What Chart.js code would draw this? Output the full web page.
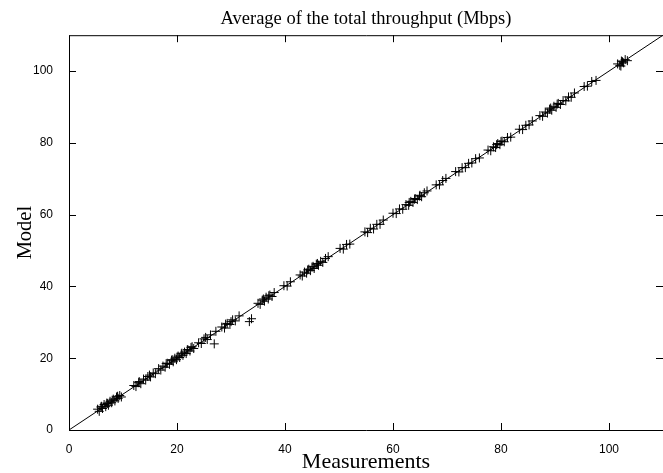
<!DOCTYPE html>
<html>
<head>
<meta charset="utf-8">
<script src="https://cdn.jsdelivr.net/npm/chart.js@4/dist/chart.umd.min.js"></script>
<style>
  html, body { margin: 0; padding: 0; background: #fff; }
  #wrap { width: 663px; height: 473px; }
</style>
</head>
<body>
<div id="wrap"><canvas id="chart"></canvas></div>
<script>
const measurements = [
  5.3, 5.6, 5.9, 6.2, 6.5, 6.8, 7.1, 7.3, 7.6, 7.9, 8.2, 8.5, 8.8, 9.1, 9.4, 9.7, 6.0, 7.0, 8.0, 9.0,
  12.0, 12.4, 12.9, 13.3, 13.8, 14.2, 14.6, 15.1, 15.6, 16.0, 13.0, 14.9,
  16.6, 17.0, 17.4, 17.8, 18.2, 18.6, 19.0, 19.3, 19.6, 19.9, 20.2, 20.5, 20.8, 21.1, 21.4, 21.7, 22.0, 22.4, 22.8, 23.1,
  18.0, 19.1, 20.0, 20.9, 21.9, 22.6,
  24.0, 24.5, 25.0, 25.6, 26.2, 26.9, 27.2, 25.3,
  28.3, 28.8, 29.3, 29.8, 30.3, 30.8, 31.5, 33.4, 33.8, 29.0, 30.0,
  35.0, 35.4, 35.8, 36.2, 36.5, 36.9, 37.2, 37.6, 38.0, 36.0, 37.0,
  39.8, 40.4, 41.0,
  42.8, 43.2, 43.6, 44.0, 44.4, 44.7, 45.0, 45.4, 45.8, 46.2, 46.6, 47.0, 47.5, 48.0, 44.2, 45.2, 46.0,
  50.2, 50.8, 51.4, 52.0,
  54.8, 55.3, 55.8, 56.4, 57.0, 57.6, 58.2,
  60.0, 60.6, 61.2, 61.8, 62.4, 62.9, 63.3, 63.7, 64.1, 64.5, 64.9, 65.3, 65.8, 66.3, 63.0, 64.0, 65.0,
  68.0, 68.6, 69.2, 69.8,
  71.6, 72.2, 72.8, 73.4, 74.0, 74.6, 75.3, 76.0,
  77.6, 78.1, 78.6, 79.0, 79.4, 79.8, 80.2, 80.6, 81.2, 81.8, 79.2, 80.0,
  83.4, 84.0, 84.6, 85.2, 85.8,
  87.2, 87.7, 88.2, 88.6, 89.0, 89.4, 89.8, 90.2, 90.6, 91.0, 91.5, 92.0, 92.5, 93.0, 93.6, 89.2, 90.4,
  95.4, 96.0, 96.8, 97.6,
  101.6, 102.0, 102.3, 102.7, 103.0, 103.4, 102.2, 102.5
];
const model = [
  5.8, 5.2, 6.4, 6.0, 7.1, 6.5, 7.4, 6.9, 8.0, 7.6, 8.6, 8.1, 9.2, 8.8, 9.6, 9.2, 6.6, 7.5, 8.3, 9.4,
  12.4, 12.1, 13.2, 12.9, 14.2, 13.9, 14.9, 14.8, 15.9, 15.7, 13.5, 15.3,
  17.1, 16.7, 17.8, 17.5, 18.6, 18.3, 19.4, 19.0, 20.0, 19.6, 20.6, 20.2, 21.2, 20.8, 21.7, 21.3, 22.4, 22.0, 23.2, 22.7,
  18.5, 19.6, 20.3, 21.4, 22.3, 23.0,
  24.3, 24.1, 25.4, 25.2, 26.5, 24.0, 27.5, 25.8,
  28.7, 28.4, 29.7, 29.4, 30.7, 30.4, 31.8, 30.2, 31.0, 29.5, 30.2,
  35.3, 35.0, 36.2, 35.9, 37.0, 36.5, 37.6, 37.2, 38.3, 36.5, 37.4,
  40.2, 40.1, 41.3,
  43.2, 42.9, 44.0, 43.7, 44.8, 44.4, 45.4, 45.0, 46.2, 45.9, 47.0, 46.7, 47.8, 48.3, 44.6, 45.6, 46.4,
  50.6, 50.4, 51.7, 51.8,
  55.2, 55.0, 56.2, 56.0, 57.3, 57.3, 58.5,
  60.4, 60.3, 61.6, 61.5, 62.8, 62.6, 63.7, 63.4, 64.5, 64.2, 65.2, 65.0, 66.1, 66.6, 63.4, 64.3, 65.4,
  68.3, 68.3, 69.5, 70.1,
  72.0, 71.9, 73.1, 73.1, 74.3, 74.4, 75.6, 75.8,
  78.0, 77.8, 78.9, 78.7, 79.8, 79.5, 80.5, 80.3, 81.5, 81.6, 79.5, 80.4,
  83.8, 83.7, 84.9, 85.0, 86.1,
  87.6, 87.4, 88.6, 88.3, 89.4, 89.1, 90.2, 89.9, 91.0, 90.7, 91.8, 91.7, 92.8, 92.7, 93.9, 89.7, 90.8,
  95.7, 95.8, 97.1, 97.4,
  102.0, 101.6, 102.8, 102.3, 103.2, 102.9, 101.4, 102.6
];
const axisMin = 0;
const axisMax = 110;
const tickStep = 20;
const identityLine = [0, 110];

const points = measurements.map((m, i) => ({ x: m, y: model[i] }));

// gnuplot-style border and inward ticks on all four sides
const frame = {
  id: 'frame',
  afterDraw(chart) {
    const { ctx, chartArea: a, scales } = chart;
    ctx.save();
    ctx.strokeStyle = '#000';
    ctx.lineWidth = 1;
    ctx.beginPath();
    ctx.moveTo(a.right, a.top + 0.5);
    ctx.lineTo(a.left + 0.5, a.top + 0.5);
    ctx.lineTo(a.left + 0.5, a.bottom + 0.5);
    ctx.lineTo(a.right, a.bottom + 0.5);
    const len = 7;
    scales.x.ticks.forEach(t => {
      const px = Math.round(scales.x.getPixelForValue(t.value)) + 0.5;
      ctx.moveTo(px, a.bottom); ctx.lineTo(px, a.bottom - len);
      ctx.moveTo(px, a.top); ctx.lineTo(px, a.top + len);
    });
    scales.y.ticks.forEach(t => {
      const py = Math.round(scales.y.getPixelForValue(t.value)) + 0.5;
      ctx.moveTo(a.left, py); ctx.lineTo(a.left + len, py);
      ctx.moveTo(a.right, py); ctx.lineTo(a.right - len, py);
    });
    ctx.stroke();
    ctx.restore();
  }
};

const sans = { family: '"Liberation Sans", Arial, sans-serif', size: 12 };
const serifFamily = '"Liberation Serif", "Times New Roman", serif';

new Chart(document.getElementById('chart'), {
  data: {
    datasets: [
      {
        type: 'scatter',
        data: points,
        pointStyle: 'cross',
        pointRadius: 4.5,
        borderColor: '#000',
        backgroundColor: '#000',
        borderWidth: 1
      },
      {
        type: 'line',
        data: identityLine.map(v => ({ x: v, y: v })),
        borderColor: '#000',
        borderWidth: 1,
        pointRadius: 0,
        fill: false
      }
    ]
  },
  options: {
    responsive: true,
    maintainAspectRatio: false,
    animation: false,
    layout: { padding: 0, autoPadding: false },
    plugins: {
      legend: { display: false },
      tooltip: { enabled: false },
      title: {
        display: true,
        text: 'Average of the total throughput (Mbps)',
        fullSize: false,
        color: '#000',
        font: { family: serifFamily, size: 18.5, weight: 'normal' },
        padding: { top: 8, bottom: 5 }
      }
    },
    scales: {
      x: {
        type: 'linear',
        min: axisMin,
        max: axisMax,
        grid: { display: false },
        border: { display: false },
        ticks: { stepSize: tickStep, includeBounds: false, color: '#000', font: sans, padding: 4, maxRotation: 0 },
        title: { display: true, text: 'Measurements', color: '#000', font: { family: serifFamily, size: 22, lineHeight: 1 }, padding: { top: 0, bottom: 0 } },
        afterFit(s) { s.height = 43; }
      },
      y: {
        type: 'linear',
        min: axisMin,
        max: axisMax,
        grid: { display: false },
        border: { display: false },
        ticks: { stepSize: tickStep, includeBounds: false, color: '#000', font: sans, padding: 8 },
        title: { display: true, text: 'Model', color: '#000', font: { family: serifFamily, size: 20.5 }, padding: { top: 13, bottom: 0 } },
        afterFit(s) { s.width = 69; }
      }
    }
  },
  plugins: [frame]
});
</script>
</body>
</html>
